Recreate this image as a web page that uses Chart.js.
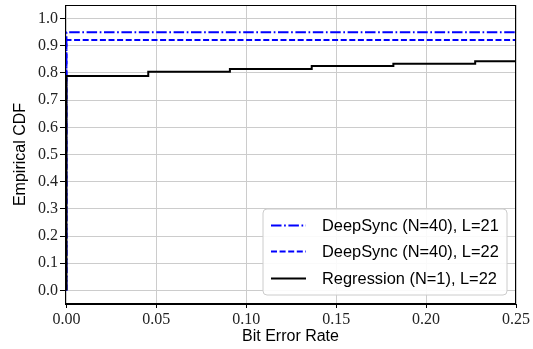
<!DOCTYPE html>
<html>
<head>
<meta charset="utf-8">
<script src="https://cdn.jsdelivr.net/npm/chart.js@4/dist/chart.umd.min.js"></script>
<style>
  html, body { margin: 0; padding: 0; background: #fff; }
  #wrap { width: 533px; height: 349px; }
</style>
</head>
<body>
<div id="wrap"><canvas id="cdf" width="533" height="349"></canvas></div>
<script>
"use strict";

// Series (x = bit error rate, y = empirical CDF)
const labels = ["DeepSync (N=40), L=21", "DeepSync (N=40), L=22", "Regression (N=1), L=22"];

const ds21X = [0, 0, 0.25];
const ds21Y = [0, 0.950, 0.950];

const ds22X = [0, 0, 0.25];
const ds22Y = [0, 0.921, 0.921];

const regX = [0, 0, 0.0455, 0.0909, 0.1364, 0.1818, 0.2273, 0.25];
const regY = [0, 0.789, 0.804, 0.815, 0.826, 0.834, 0.843, 0.843];

const xTicks = [0, 0.05, 0.10, 0.15, 0.20, 0.25];
const yTicks = [0, 0.1, 0.2, 0.3, 0.4, 0.5, 0.6, 0.7, 0.8, 0.9, 1.0];

function toPoints(xs, ys) {
    return xs.map(function(x, i) { return {x: x, y: ys[i]}; });
}

const tickFont = {family: "'Liberation Serif', serif", size: 16};
const labelFont = {family: "'Liberation Sans', sans-serif", size: 16};

// top + right spines and the boxed legend, matplotlib style
const frameAndLegend = {
    id: "frameAndLegend",
    afterDraw: function(chart) {
        const ctx = chart.ctx;
        const a = chart.chartArea;
        ctx.save();
        ctx.strokeStyle = "#000";
        ctx.lineWidth = 1;
        ctx.strokeRect(Math.round(a.left) + 0.5, Math.round(a.top) + 0.5,
                       Math.round(a.right - a.left) - 1, Math.round(a.bottom - a.top) - 1);

        // legend box
        const bx = 263, by = 209, bw = 244, bh = 86, r = 4;
        ctx.beginPath();
        ctx.moveTo(bx + r, by);
        ctx.arcTo(bx + bw, by, bx + bw, by + bh, r);
        ctx.arcTo(bx + bw, by + bh, bx, by + bh, r);
        ctx.arcTo(bx, by + bh, bx, by, r);
        ctx.arcTo(bx, by, bx + bw, by, r);
        ctx.closePath();
        ctx.fillStyle = "rgba(255,255,255,0.9)";
        ctx.fill();
        ctx.strokeStyle = "#cccccc";
        ctx.stroke();

        const rows = [225, 251, 278];
        chart.data.datasets.forEach(function(d, i) {
            const y = rows[i] + 0.5;
            ctx.beginPath();
            ctx.setLineDash(d.borderDash || []);
            ctx.strokeStyle = d.borderColor;
            ctx.lineWidth = d.borderWidth;
            ctx.moveTo(271, y);
            ctx.lineTo(306, y);
            ctx.stroke();
            ctx.setLineDash([]);
            ctx.fillStyle = "#000";
            ctx.font = "16.4px " + labelFont.family;
            ctx.textBaseline = "middle";
            ctx.textAlign = "left";
            ctx.fillText(d.label, 322, rows[i] + 1);
        });
        ctx.restore();
    }
};

new Chart(document.getElementById("cdf"), {
    type: "line",
    data: {
        datasets: [
            {
                label: labels[0],
                data: toPoints(ds21X, ds21Y),
                borderColor: "#0000ff",
                borderWidth: 2,
                borderDash: [10.5, 2.6, 1.7, 2.6],
                stepped: true,
                pointRadius: 0,
                order: 3
            },
            {
                label: labels[1],
                data: toPoints(ds22X, ds22Y),
                borderColor: "#0000ff",
                borderWidth: 2,
                borderDash: [6, 2.6],
                stepped: true,
                pointRadius: 0,
                order: 2
            },
            {
                label: labels[2],
                data: toPoints(regX, regY),
                borderColor: "#000000",
                borderWidth: 2,
                stepped: true,
                pointRadius: 0,
                order: 1
            }
        ]
    },
    options: {
        responsive: false,
        animation: false,
        layout: {padding: {top: 5, right: 17, bottom: 0, left: 0}},
        plugins: {
            legend: {display: false},
            tooltip: {enabled: false}
        },
        scales: {
            x: {
                type: "linear",
                min: -0.0008,
                max: 0.25,
                afterBuildTicks: function(s) { s.ticks = xTicks.map(function(v) { return {value: v}; }); },
                afterFit: function(s) { s.height = 45; s.paddingLeft = 0; s.paddingRight = 0; },
                ticks: {
                    autoSkip: false,
                    maxRotation: 0,
                    padding: 2,
                    color: "#222",
                    font: tickFont,
                    callback: function(v) { return Number(v).toFixed(2); }
                },
                grid: {color: "#cccccc", lineWidth: 1, tickLength: 4, tickColor: "#000"},
                border: {display: true, color: "#000", width: 1},
                title: {display: true, text: "Bit Error Rate", color: "#000", font: labelFont, padding: {top: 0, bottom: 3}}
            },
            y: {
                min: -0.05,
                max: 1.05,
                afterBuildTicks: function(s) { s.ticks = yTicks.map(function(v) { return {value: v}; }); },
                afterFit: function(s) { s.width = 65; s.paddingTop = 0; s.paddingBottom = 0; },
                ticks: {
                    padding: 2,
                    color: "#222",
                    font: tickFont,
                    callback: function(v) { return Number(v).toFixed(1); }
                },
                grid: {color: "#cccccc", lineWidth: 1, tickLength: 5, tickColor: "#000"},
                border: {display: true, color: "#000", width: 1},
                title: {display: true, text: "Empirical CDF", color: "#000", font: labelFont, padding: {top: 11, bottom: 0}}
            }
        }
    },
    plugins: [frameAndLegend]
});
</script>
</body>
</html>
